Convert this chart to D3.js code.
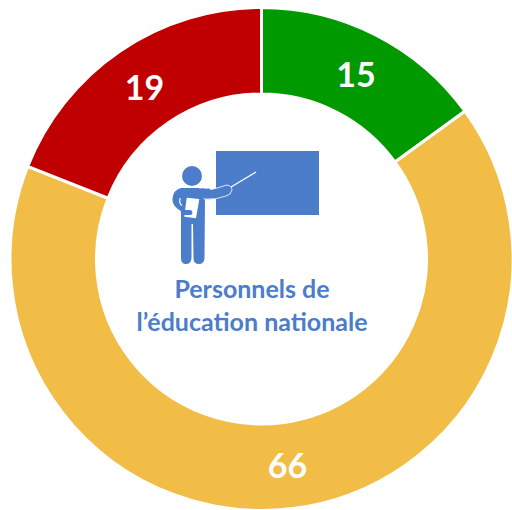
<!DOCTYPE html>
<html>
<head>
<meta charset="utf-8">
<script src="https://cdn.jsdelivr.net/npm/d3@7"></script>
<style>
html, body { margin: 0; padding: 0; background: #fff; }
svg { display: block; }
text { font-family: Lato, "Open Sans", sans-serif; font-weight: 700; }
</style>
</head>
<body>
<script>
let categories = ['vert', 'jaune', 'rouge'];
let values = [15, 66, 19];
let colors = ['#009a00', '#f2bd47', '#c00000'];
let titleLines = ['Personnels de', 'l\u2019éducation nationale'];

let width = 512, height = 510;
let cx = 261.5, cy = 259, outer = 251.5, inner = 165;
let blue = '#4b7dca';

let svg = d3.select('body').append('svg')
    .attr('width', width)
    .attr('height', height);

let g = svg.append('g').attr('transform', 'translate(' + cx + ',' + cy + ')');

let pie = d3.pie().sort(null).value(d => d);
let arc = d3.arc().innerRadius(inner).outerRadius(outer);
let labelArc = d3.arc().innerRadius(208).outerRadius(208);

let slices = pie(values);

g.selectAll('.slice').data(slices).enter().append('path')
    .attr('class', 'slice')
    .attr('d', arc)
    .style('fill', (d, i) => colors[i])
    .style('stroke', '#fff')
    .style('stroke-width', 3);

g.selectAll('.value').data(slices).enter().append('text')
    .attr('class', 'value')
    .attr('transform', d => 'translate(' + labelArc.centroid(d) + ')')
    .attr('text-anchor', 'middle')
    .attr('dy', '0.38em')
    .style('fill', '#fff')
    .style('font-size', '34px')
    .text(d => d.data);

// teacher pictogram
let icon = svg.append('g').attr('fill', blue);
icon.append('rect').attr('x', 216).attr('y', 151).attr('width', 103).attr('height', 64);
icon.append('circle').attr('cx', 192).attr('cy', 176).attr('r', 10);
// body and legs
icon.append('path').attr('d', 'M181 188 L203 188 L205 198 L204.5 258 Q204 264 199 264 Q193.5 264 193.5 258 L193 224 L191.5 224 L191.5 258 Q191 264 186 264 Q181 264 181 258 L181 211 Q172 206 172.5 199 Q173 190 181 188 Z');
// pointing arm, white outline separates it from the board
icon.append('path').attr('d', 'M200 188 L203 188 Q210 191 217 188 L227 185 Q232 186 232 190 Q231 195 226 196 Q216 200 204 199 Z')
    .style('stroke', '#fff').style('stroke-width', 0.8);
icon.append('rect').attr('x', 200).attr('y', 188.6).attr('width', 10).attr('height', 9.6).style('stroke', 'none');
// pointer
icon.append('line').attr('x1', 231).attr('y1', 187).attr('x2', 256).attr('y2', 172)
    .style('stroke', '#fff').style('stroke-width', 1.3);
// paper
icon.append('path').attr('d', 'M186.7 197.7 L199.3 199 L196 218.3 L184.3 216.7 Z').style('fill', '#fff');
// hand over the paper
icon.append('path').attr('d', 'M180 205 Q180 209 184 210 L191 210 Q194 213 191 215 L183 215 L181 213 Z');
icon.append('path').attr('d', 'M180 198 Q179 204 182 205.5').style('fill', 'none')
    .style('stroke', '#fff').style('stroke-width', 1.2);

svg.selectAll('.title').data(titleLines).enter().append('text')
    .attr('class', 'title')
    .attr('x', 252)
    .attr('y', (d, i) => 298 + i * 33)
    .attr('text-anchor', 'middle')
    .style('fill', blue)
    .style('font-size', '25px')
    .text(d => d);
</script>
</body>
</html>
